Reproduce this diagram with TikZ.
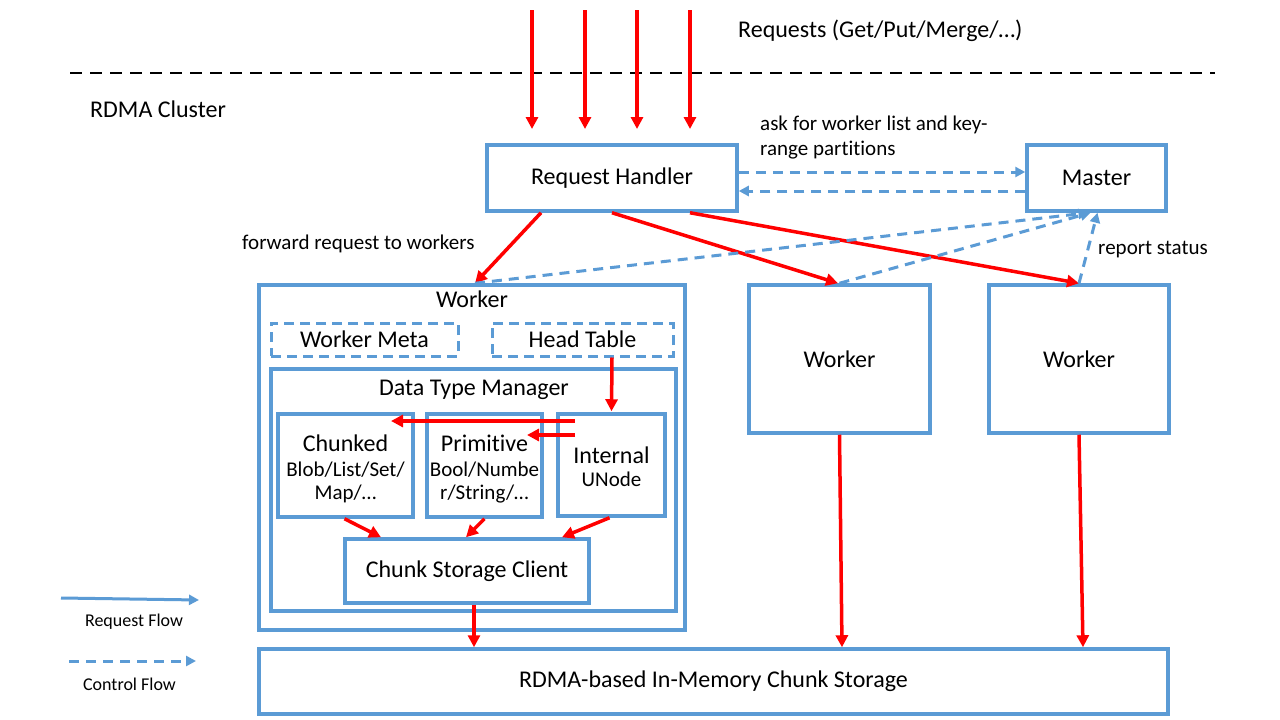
\documentclass[tikz,border=0pt]{standalone}
\usepackage{fontspec}
\setmainfont{Carlito}[Ligatures={NoCommon}]
\usetikzlibrary{arrows.meta,calc}
\definecolor{obl}{HTML}{5B9BD5}
\definecolor{ored}{HTML}{FF0000}
\newcommand\fsz[2]{\fontsize{#1pt}{#2pt}\selectfont}
\begin{document}
\begin{tikzpicture}[x=1pt,y=-1pt,
  box/.style={draw=obl, line width=3.5pt, rectangle, inner sep=0pt, align=center, font=\fsz{24}{28}},
  dbox/.style={box, dash pattern=on 10pt off 6pt, line width=3pt},
  req/.style={draw=ored, line width=3.5pt, -{Triangle[length=12pt,width=12pt]}},
  ctl/.style={draw=obl, line width=3pt, dash pattern=on 10pt off 7pt, -{Triangle[length=10pt,width=10pt]}},
  lbl/.style={inner sep=0pt, font=\fsz{24}{28}},
  slbl/.style={inner sep=0pt, font=\fsz{21}{25}, align=left}]
\useasboundingbox (0,0) rectangle (1280,720);
\fill[white] (0,0) rectangle (1280,720);

% top
\node[lbl, anchor=west] (reqs) at (738,31) {Requests (Get/Put/Merge/\ldots)};
\coordinate (cl) at (70,73);
\coordinate (cr) at (1215,73);
\draw[black, line width=2.5pt, dash pattern=on 12pt off 8pt] (cl) -- (cr);
\node[lbl, anchor=west] (rdma) at (90,109) {RDMA Cluster};

% boxes
\node[box, minimum width=250pt, minimum height=66pt] (rh) at (612,178) {Request Handler};
\node[box, minimum width=139pt, minimum height=66pt] (master) at (1096.5,178) {Master};
\node[box, minimum width=426pt, minimum height=345pt] (w1) at (472,457.5) {};
\node[box, minimum width=181pt, minimum height=148pt] (w2) at (839.5,359) {Worker};
\node[box, minimum width=180pt, minimum height=148pt] (w3) at (1079,359) {Worker};
\node[box, minimum width=909pt, minimum height=65pt] (st) at (713.5,681.5) {RDMA-based In-Memory Chunk Storage};

% inside worker 1
\node[lbl] (w1l) at (472,299) {Worker};
\node[dbox, minimum width=187pt, minimum height=33pt] (wm) at (364.5,339.5) {Worker Meta};
\node[dbox, minimum width=181pt, minimum height=33pt] (ht) at (582.5,339.5) {Head Table};
\node[box, minimum width=405pt, minimum height=242pt] (dtm) at (473.5,490) {};
\node[lbl] (dtml) at (474,390) {Data Type Manager};
\node[box, minimum width=135pt, minimum height=103pt] (ch) at (345.5,465.5) {};
\node[box, minimum width=115pt, minimum height=103pt] (pr) at (484.5,465.5) {};
\node[box, minimum width=107pt, minimum height=102pt] (in) at (611.5,465) {};
\node[box, minimum width=244pt, minimum height=64pt] (csc) at (467,571) {Chunk Storage Client};

\node[lbl] (chl) at (345.5,443) {Chunked};
\node[slbl] (chs1) at (345.5,470) {Blob/List/Set/};
\node[slbl] (chs2) at (345.5,494) {Map/\ldots};
\node[lbl] (prl) at (484.5,443) {Primitive};
\node[slbl] (prs1) at (484.5,470) {Bool/Numbe};
\node[slbl] (prs2) at (484.5,494) {r/String/\ldots};
\node[lbl] (inl) at (611.5,455) {Internal};
\node[slbl] (ins) at (611.5,479) {UNode};

% request arrows at top
\foreach \i/\xx in {1/532,2/585,3/637,4/690}{
  \coordinate (rs\i) at (\xx,10);
  \coordinate (re\i) at (\xx,129);
  \draw[req] (rs\i) -- (re\i);
}

% rh <-> master
\draw[ctl] ([yshift=6pt]rh.east) -- ([yshift=6pt]master.west);
\draw[ctl] ([yshift=-13pt]master.west) -- ([yshift=-13pt]rh.east);
\node[slbl, anchor=west] (ask) at (760,125) {ask for worker list and key-};
\node[slbl, anchor=west] (ask2) at (760,150) {range partitions};

% rh -> workers
\draw[req] ([xshift=-71pt]rh.south) -- ([xshift=3pt]w1.north);
\draw[req] (rh.south) -- ([xshift=-1.5pt]w2.north);
\draw[req] ([xshift=78pt]rh.south) -- (w3.north);
\node[slbl, anchor=west] (fwd) at (242,244) {forward request to workers};

% workers -> master (control)
\draw[ctl] ([xshift=3pt]w1.north) -- ([xshift=-8pt]master.south);
\draw[ctl] (w2.north) -- ([xshift=-6pt]master.south);
\draw[ctl] (w3.north) -- ([xshift=1pt]master.south);
\node[slbl, anchor=west] (rep) at (1098,250) {report status};

% inside data type manager
\draw[req] ([xshift=29.5pt]ht.south) -- ([yshift=1pt]in.north);
\coordinate (a1s) at (575,421);
\coordinate (a1e) at (391,421);
\draw[req] (a1s) -- (a1e);
\coordinate (a2s) at (575,435);
\coordinate (a2e) at (527,435);
\draw[req] (a2s) -- (a2e);
\draw[req] ([xshift=-1pt]ch.south) -- ([xshift=-86pt]csc.north);
\draw[req] ([xshift=0pt]pr.south) -- ([xshift=-1pt]csc.north);
\draw[req] ([xshift=-2pt]in.south) -- ([xshift=95pt]csc.north);

% to storage
\draw[req] ([xshift=7pt]csc.south) -- ([xshift=-239.5pt]st.north);
\draw[req] (w2.south) -- ([xshift=128.5pt]st.north);
\draw[req] (w3.south) -- ([xshift=369.5pt]st.north);

% legend
\coordinate (l1s) at (61,598);
\coordinate (l1e) at (199,600);
\draw[draw=obl, line width=3pt, -{Triangle[length=10pt,width=10pt]}] (l1s) -- (l1e);
\node[inner sep=0pt, font=\fsz{18}{22}] (lg1) at (134,622) {Request Flow};
\coordinate (l2s) at (69,661);
\coordinate (l2e) at (196,661);
\draw[ctl] (l2s) -- (l2e);
\node[inner sep=0pt, font=\fsz{18}{22}] (lg2) at (129.5,684) {Control Flow};
\end{tikzpicture}
\end{document}
